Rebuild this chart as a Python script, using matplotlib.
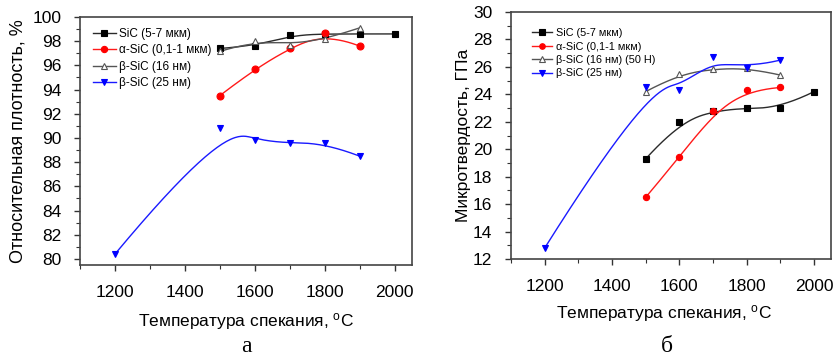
import matplotlib
matplotlib.use("Agg")
import matplotlib.pyplot as plt
import numpy as np
from matplotlib.ticker import MultipleLocator

plt.rcParams['font.family'] = ['Liberation Sans', 'DejaVu Sans']
plt.rcParams['mathtext.fontset'] = 'custom'
plt.rcParams['mathtext.rm'] = 'Liberation Sans'
plt.rcParams['mathtext.it'] = 'Liberation Sans'

# ---- data, panel a (relative density, %) ----
t_sic = [1500, 1600, 1700, 1800, 1900, 2000]
dens_sic = [97.4, 97.6, 98.5, 98.6, 98.6, 98.6]
t_alpha = [1500, 1600, 1700, 1800, 1900]
dens_alpha = [93.5, 95.7, 97.45, 98.7, 97.6]
t_beta16 = [1500, 1600, 1700, 1800, 1900]
dens_beta16 = [97.15, 98.05, 97.65, 98.15, 99.1]
t_beta25 = [1200, 1500, 1600, 1700, 1800, 1900]
dens_beta25 = [80.4, 90.8, 89.85, 89.55, 89.6, 88.5]

# ---- data, panel b (microhardness, GPa) ----
hv_sic = [19.3, 22.0, 22.8, 23.0, 23.0, 24.2]
hv_alpha = [16.5, 19.4, 22.8, 24.3, 24.5]
hv_beta16 = [24.2, 25.5, 25.85, 25.95, 25.4]
hv_beta25 = [12.8, 24.5, 24.3, 26.7, 25.9, 26.5]

labels_a = ['SiC (5-7 мкм)', 'α-SiC (0,1-1 мкм)', 'β-SiC (16 нм)', 'β-SiC (25 нм)']
labels_b = ['SiC (5-7 мкм)', 'α-SiC (0,1-1 мкм)', 'β-SiC (16 нм) (50 Н)', 'β-SiC (25 нм)']


def bspline(x, y, n=200):
    # clamped B-spline using the points as control points (Origin-style connect)
    P = np.column_stack([x, y]).astype(float)
    m = len(P)
    k = min(3, m - 1)
    inner = np.linspace(0, 1, m - k + 1)
    knots = np.concatenate([np.zeros(k), inner, np.ones(k)])
    u = np.linspace(0, 1, n)
    u[-1] = 1 - 1e-12

    def basis(i, p, u):
        if p == 0:
            return np.where((knots[i] <= u) & (u < knots[i + 1]), 1.0, 0.0)
        a = 0.0
        d1 = knots[i + p] - knots[i]
        if d1 > 0:
            a = (u - knots[i]) / d1 * basis(i, p - 1, u)
        b = 0.0
        d2 = knots[i + p + 1] - knots[i + 1]
        if d2 > 0:
            b = (knots[i + p + 1] - u) / d2 * basis(i + 1, p - 1, u)
        return a + b

    B = np.array([basis(i, k, u) for i in range(m)])
    C = B.T @ P
    return C[:, 0], C[:, 1]


col_k = '#2a2a2a'
col_r = '#ff1a1a'
col_g = '#555555'
col_b = '#1a1aff'

fig = plt.figure(figsize=(8.34, 3.59), dpi=100)
ax1 = fig.add_axes([80 / 834, 1 - 265 / 359, 332 / 834, 248 / 359])
ax2 = fig.add_axes([511 / 834, 1 - 259 / 359, 320 / 834, 247 / 359])


def draw(ax, series, labels, ms, fs, lspace, anchor):
    styles = [
        dict(color=col_k, marker='s', mfc='black', mec='black'),
        dict(color=col_r, marker='o', mfc='red', mec='red'),
        dict(color=col_g, marker='^', mfc='white', mec=col_g),
        dict(color=col_b, marker='v', mfc='blue', mec='blue'),
    ]
    handles = []
    for (x, y), st, lab in zip(series, styles, labels):
        cx, cy = bspline(x, y)
        ax.plot(cx, cy, color=st['color'], lw=1.0, zorder=2)
        ax.plot(x, y, ls='none', marker=st['marker'], ms=ms, mfc=st['mfc'],
                mec=st['mec'], mew=0.8, zorder=3)
        h, = ax.plot([], [], color=st['color'], lw=1.0, marker=st['marker'],
                     ms=ms - 0.5, mfc=st['mfc'], mec=st['mec'], mew=0.8, label=lab)
        handles.append(h)
    leg = ax.legend(handles=handles, loc='upper left', frameon=False,
                    fontsize=fs, handlelength=1.9, handletextpad=0.3,
                    labelspacing=lspace, borderaxespad=0.0, borderpad=0.0,
                    bbox_to_anchor=anchor)
    return leg


draw(ax1, [(t_sic, dens_sic), (t_alpha, dens_alpha), (t_beta16, dens_beta16),
           (t_beta25, dens_beta25)], labels_a, 5, 8.5, 0.36, (0.04, 0.955))
draw(ax2, [(t_sic, hv_sic), (t_alpha, hv_alpha), (t_beta16, hv_beta16),
           (t_beta25, hv_beta25)], labels_b, 4.5, 7.8, 0.32, (0.065, 0.935))

for ax in (ax1, ax2):
    ax.set_xlim(1100, 2050)
    ax.xaxis.set_major_locator(MultipleLocator(200))
    ax.xaxis.set_minor_locator(MultipleLocator(100))
    ax.yaxis.set_major_locator(MultipleLocator(2))
    ax.yaxis.set_minor_locator(MultipleLocator(1))
    ax.tick_params(which='both', direction='out', top=False, right=False,
                   colors='#333333', labelcolor='black')
    ax.tick_params(which='major', length=4.5, width=1.0, labelsize=12.5)
    ax.tick_params(which='minor', length=3, width=0.8)
    ax.tick_params(axis='y', pad=9)
    ax.tick_params(axis='x', pad=10)
    for s in ax.spines.values():
        s.set_color('#444444')
        s.set_linewidth(1.2)

ax1.set_ylim(79.5, 100)
ax2.set_ylim(12, 30)

ax1.set_ylabel('Относительная плотность, %', fontsize=13, labelpad=4)
ax2.set_ylabel('Микротвердость, ГПа', fontsize=12.5, labelpad=1)

fig.text(246 / 834, 1 - 322 / 359, 'Температура спекания, $^{\\mathrm{o}}$C',
         ha='center', va='center', fontsize=12.5)
fig.text(664 / 834, 1 - 314 / 359, 'Температура спекания, $^{\\mathrm{o}}$C',
         ha='center', va='center', fontsize=12.5)
fig.text(246 / 834, 1 - 346 / 359, 'а', ha='center', va='center',
         fontsize=17, family=['Liberation Serif', 'DejaVu Serif'])
fig.text(667 / 834, 1 - 346 / 359, 'б', ha='center', va='center',
         fontsize=17, family=['Liberation Serif', 'DejaVu Serif'])

fig.savefig('out.png', dpi=100)
